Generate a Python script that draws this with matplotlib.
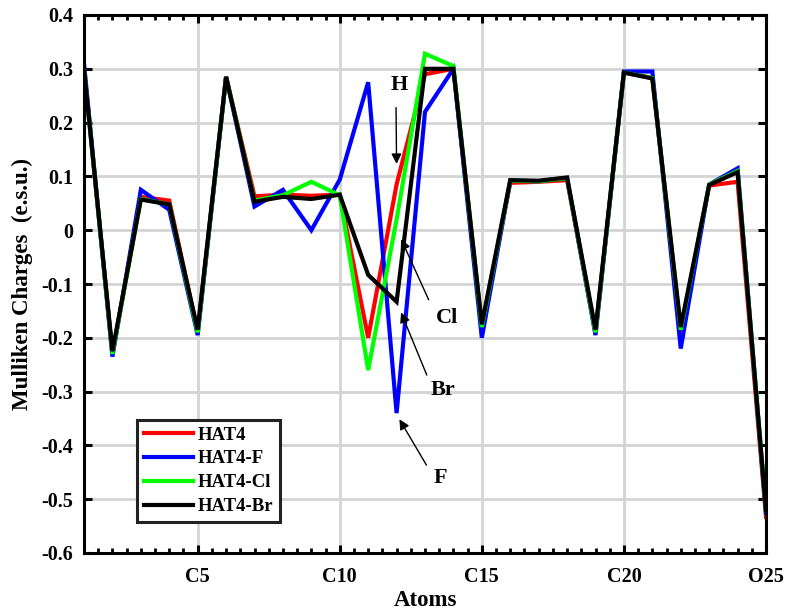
import matplotlib
matplotlib.use("Agg")
import matplotlib.pyplot as plt
from matplotlib.ticker import MultipleLocator, FixedLocator

plt.rcParams['font.family'] = ['Liberation Serif', 'DejaVu Serif']
plt.rcParams['font.weight'] = 'bold'

atoms = list(range(1, 26))
tick_pos = [5, 10, 15, 20, 25]
tick_labels = ['C5', 'C10', 'C15', 'C20', 'O25']
y_ticks = [-0.6, -0.5, -0.4, -0.3, -0.2, -0.1, 0, 0.1, 0.2, 0.3, 0.4]
y_tick_labels = ['-0.6', '-0.5', '-0.4', '-0.3', '-0.2', '-0.1', '0', '0.1', '0.2', '0.3', '0.4']

hat4 = [0.30, -0.23, 0.062, 0.055, -0.19, 0.285, 0.063, 0.066, 0.064, 0.066,
        -0.20, 0.085, 0.29, 0.30, -0.18, 0.088, 0.09, 0.093, -0.19, 0.293,
        0.283, -0.19, 0.083, 0.09, -0.533]
hat4_f = [0.31, -0.235, 0.075, 0.038, -0.195, 0.285, 0.044, 0.075, 0.0, 0.094,
          0.275, -0.34, 0.22, 0.30, -0.20, 0.092, 0.091, 0.097, -0.195, 0.295,
          0.295, -0.22, 0.085, 0.115, -0.525]
hat4_cl = [0.30, -0.23, 0.058, 0.048, -0.19, 0.285, 0.055, 0.065, 0.09, 0.065,
           -0.26, 0.02, 0.328, 0.305, -0.18, 0.092, 0.091, 0.097, -0.19, 0.293,
           0.283, -0.185, 0.085, 0.11, -0.52]
hat4_br = [0.30, -0.225, 0.057, 0.048, -0.185, 0.285, 0.053, 0.062, 0.058, 0.066,
           -0.083, -0.133, 0.30, 0.30, -0.175, 0.093, 0.092, 0.098, -0.185, 0.293,
           0.282, -0.18, 0.084, 0.108, -0.52]

series = [('HAT4', hat4, '#ff0000'), ('HAT4-F', hat4_f, '#0000ff'),
          ('HAT4-Cl', hat4_cl, '#00ff00'), ('HAT4-Br', hat4_br, '#000000')]

fig = plt.figure(figsize=(7.9, 6.13), dpi=100)
ax = fig.add_axes([84/790, 1-553/613, 682/790, 538/613])

for name, vals, col in series:
    ax.plot(atoms, vals, color=col, lw=3, label=name, solid_joinstyle='miter')

ax.set_xlim(1, 25)
ax.set_ylim(-0.6, 0.4)
ax.xaxis.set_major_locator(FixedLocator(tick_pos))
ax.set_xticklabels(tick_labels)
ax.xaxis.set_minor_locator(MultipleLocator(0.5))
ax.yaxis.set_major_locator(FixedLocator(y_ticks))
ax.set_yticklabels(y_tick_labels)

ax.grid(True, which='major', color='#d4d4d4', lw=2)
ax.set_axisbelow(True)
for s in ax.spines.values():
    s.set_linewidth(2.2)
ax.tick_params(which='major', direction='in', length=6, width=2.2, top=True, right=True,
               labelsize=14.5)
ax.tick_params(axis='x', which='major', pad=10)
ax.tick_params(axis='y', which='major', pad=8)
ax.tick_params(which='minor', direction='in', length=3.5, width=2, top=True, right=False)
ax.tick_params(axis='y', which='minor', left=False, right=False)
for lab in ax.get_xticklabels() + ax.get_yticklabels():
    lab.set_fontweight('bold')

ax.set_xlabel('Atoms', fontsize=16.5, fontweight='bold', labelpad=2)
ax.set_ylabel('Mulliken Charges  (e.s.u.)', fontsize=16.5, fontweight='bold', labelpad=6)

arrow = dict(arrowstyle='-|>', color='black', lw=1, mutation_scale=15)
ax.annotate('', xy=(12.0, 0.118), xytext=(11.98, 0.233), arrowprops=dict(arrow))
ax.text(12.1, 0.27, 'H', fontsize=16, fontweight='bold', ha='center', va='center')
ax.annotate('', xy=(12.12, -0.012), xytext=(13.17, -0.134), arrowprops=dict(arrow))
ax.text(13.77, -0.163, 'Cl', fontsize=16, fontweight='bold', ha='center', va='center')
ax.annotate('', xy=(12.12, -0.148), xytext=(13.1, -0.274), arrowprops=dict(arrow))
ax.text(13.63, -0.297, 'Br', fontsize=16, fontweight='bold', ha='center', va='center')
ax.annotate('', xy=(12.05, -0.347), xytext=(13.1, -0.441), arrowprops=dict(arrow))
ax.text(13.53, -0.46, 'F', fontsize=16, fontweight='bold', ha='center', va='center')

leg = ax.legend(loc='lower left', bbox_to_anchor=(0.078, 0.058), borderaxespad=0,
                fancybox=False, edgecolor='#222222', framealpha=1,
                prop={'weight': 'bold', 'size': 13.5}, handlelength=2.6,
                labelspacing=0.36, handletextpad=0.3, borderpad=0.35)
leg.get_frame().set_linewidth(2.2)

fig.savefig('out.png', dpi=100)
